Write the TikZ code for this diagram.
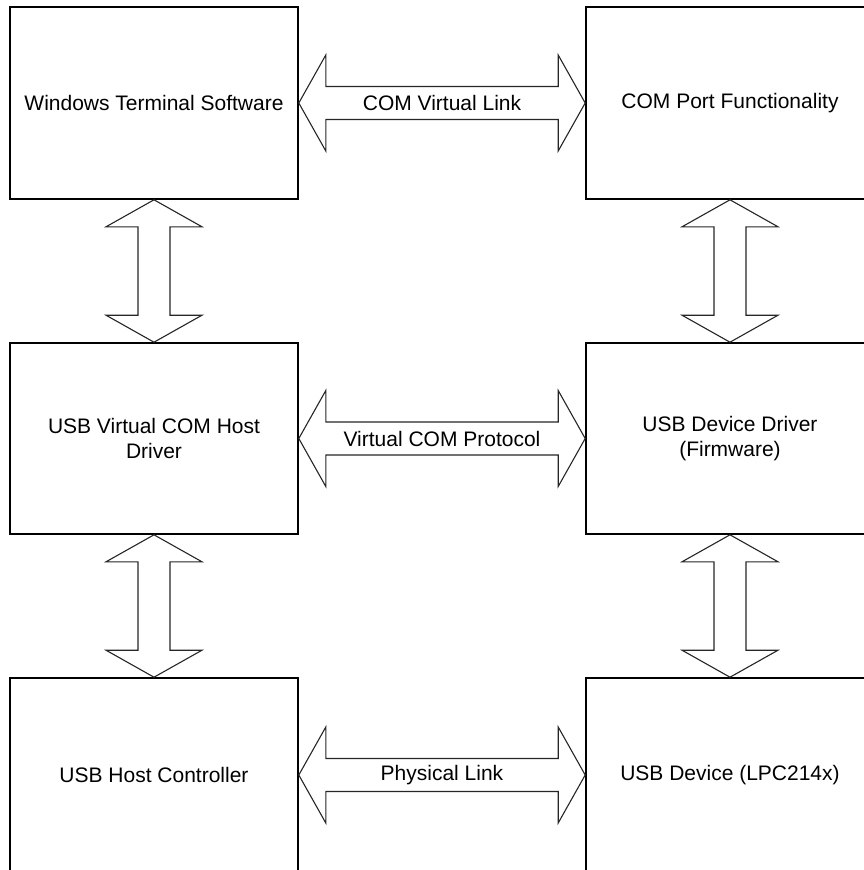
\documentclass[tikz,border=0pt]{standalone}
\usepackage{fontspec}
\setmainfont{Liberation Sans}
\usetikzlibrary{calc}
\tikzset{
  blk/.style={draw=black, line width=1.6pt, minimum width=288pt, minimum height=192pt,
    inner sep=0pt, align=center, font=\fontsize{21}{25}\selectfont},
  fat/.style={draw=black!85, line width=1.1pt, fill=white, line join=miter},
  lbl/.style={font=\fontsize{21}{25}\selectfont, inner sep=0pt}
}
\newcommand{\hfat}[2]{%
  \draw[fat] let \p1=(#1.east), \p2=(#2.west) in
    (\x1,\y1) -- (\x1+27pt,\y1+48pt) -- (\x1+27pt,\y1+16.5pt) -- (\x2-27pt,\y1+16.5pt)
    -- (\x2-27pt,\y1+48pt) -- (\x2,\y1) -- (\x2-27pt,\y1-48pt) -- (\x2-27pt,\y1-16.5pt)
    -- (\x1+27pt,\y1-16.5pt) -- (\x1+27pt,\y1-48pt) -- cycle;}
\newcommand{\vfat}[2]{%
  \draw[fat] let \p1=(#1.south), \p2=(#2.north) in
    (\x1,\y1) -- (\x1+48pt,\y1-27pt) -- (\x1+16pt,\y1-27pt) -- (\x1+16pt,\y2+27pt)
    -- (\x1+48pt,\y2+27pt) -- (\x1,\y2) -- (\x1-48pt,\y2+27pt) -- (\x1-16pt,\y2+27pt)
    -- (\x1-16pt,\y1-27pt) -- (\x1-48pt,\y1-27pt) -- cycle;}
\begin{document}
\begin{tikzpicture}[x=1pt,y=-1pt]
  \useasboundingbox (0,0) rectangle (864,870);
  \clip (0,0) rectangle (864,870);
  % boxes
  \node[blk] (tl) at (154,103) {Windows Terminal Software};
  \node[blk] (tr) at (730,103) {COM Port Functionality};
  \node[blk, minimum height=191pt] (ml) at (154,438.5) {USB Virtual COM Host\\Driver};
  \node[blk, minimum height=191pt] (mr) at (730,438.5) {USB Device Driver\\(Firmware)};
  \node[blk, minimum height=194pt] (bl) at (154,775) {USB Host Controller};
  \node[blk, minimum height=194pt] (br) at (730,775) {USB Device (LPC214x)};
  % horizontal double arrows
  \hfat{tl}{tr}
  \hfat{ml}{mr}
  \hfat{bl}{br}
  \path (tl.east) -- (tr.west) node[lbl, midway] {COM Virtual Link};
  \path (ml.east) -- (mr.west) node[lbl, midway] {Virtual COM Protocol};
  \path (bl.east) -- (br.west) node[lbl, midway] {Physical Link};
  % vertical double arrows
  \vfat{tl}{ml}
  \vfat{ml}{bl}
  \vfat{tr}{mr}
  \vfat{mr}{br}
\end{tikzpicture}
\end{document}
